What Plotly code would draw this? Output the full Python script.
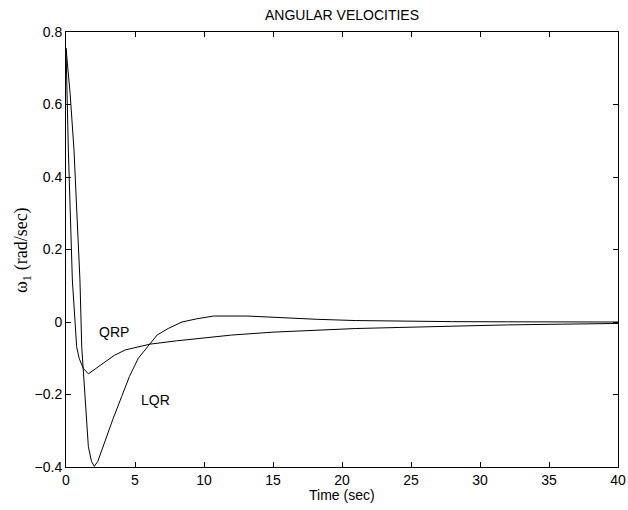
import plotly.graph_objects as go

# LQR response
lqr_t = [0, 0.3, 0.58, 0.8, 1.01, 1.14, 1.38, 1.62, 1.85, 2.05, 2.3, 2.83, 3.4, 4.03, 4.6,
         5.24, 6.1, 6.6, 7.4, 8.4, 9.5, 10.7, 13.1, 15.5, 18.2, 21.0, 24.2, 28, 32, 36, 40]
lqr_v = [0.756, 0.63, 0.474, 0.30, 0.116, -0.068, -0.215, -0.344, -0.385, -0.398, -0.385,
         -0.326, -0.268, -0.206, -0.15, -0.10, -0.061, -0.036, -0.018, 0.0, 0.009, 0.0165,
         0.0165, 0.012, 0.0074, 0.004, 0.002, 0.001, 0.0005, 0.0002, 0.0]

# QRP response
qrp_t = [0, 0.17, 0.46, 0.6, 0.77, 0.95, 1.25, 1.62, 2.0, 2.83, 3.5, 4.3, 5.2, 6.1, 8, 10,
         12, 15, 18, 21, 24.2, 28, 32, 36, 40]
qrp_v = [0.756, 0.474, 0.116, 0.02, -0.068, -0.10, -0.128, -0.143, -0.133, -0.11, -0.092,
         -0.077, -0.068, -0.061, -0.052, -0.043, -0.036, -0.028, -0.022, -0.018, -0.015,
         -0.011, -0.008, -0.006, -0.004]

x_ticks = [0, 5, 10, 15, 20, 25, 30, 35, 40]
y_ticks = [-0.4, -0.2, 0, 0.2, 0.4, 0.6, 0.8]

labels = ["QRP", "LQR"]
label_t = [3.5, 6.5]
label_v = [-0.027, -0.215]

fig = go.Figure()
fig.add_trace(go.Scatter(x=lqr_t, y=lqr_v, mode="lines", line=dict(color="black", width=1),
                         name="LQR", showlegend=False))
fig.add_trace(go.Scatter(x=qrp_t, y=qrp_v, mode="lines", line=dict(color="black", width=1),
                         name="QRP", showlegend=False))

for txt, t, v in zip(labels, label_t, label_v):
    fig.add_annotation(x=t, y=v, text=txt, showarrow=False,
                       font=dict(family="Liberation Sans, Arial", size=14, color="black"))

axis_common = dict(showline=True, linecolor="black", linewidth=1, mirror="ticks",
                   ticks="inside", ticklen=5, tickcolor="black", showgrid=False,
                   zeroline=False, automargin=False,
                   tickfont=dict(family="Liberation Sans, Arial", size=14, color="black"))

fig.update_layout(
    width=628, height=510,
    margin=dict(l=66, r=10, t=32, b=43, autoexpand=False),
    paper_bgcolor="white", plot_bgcolor="white",
    title=dict(text="ANGULAR VELOCITIES", x=0.5, xref="paper", y=1 - 15 / 510,
               yref="container", yanchor="middle", xanchor="center", automargin=False,
               font=dict(family="Liberation Sans, Arial", size=14, color="black")),
    xaxis=dict(range=[0, 40], tickvals=x_ticks, **axis_common),
    yaxis=dict(range=[-0.4, 0.8], tickvals=y_ticks, **axis_common),
)

fig.add_annotation(xref="paper", yref="paper", x=0.5, y=0, yshift=-28, yanchor="middle",
                   text="Time (sec)", showarrow=False,
                   font=dict(family="Liberation Sans, Arial", size=14, color="black"))
fig.add_annotation(xref="paper", yref="paper", x=0, xshift=-43, y=(467 - 250) / 435,
                   textangle=-90, xanchor="center", yanchor="middle",
                   text="ω<sub>1</sub> (rad/sec)", showarrow=False,
                   font=dict(family="Liberation Serif, Times New Roman", size=18, color="black"))

fig.write_html(
    "out.html",
    config={"displayModeBar": False},
    post_script="document.body.style.margin='0';document.body.style.overflow='hidden';",
)
